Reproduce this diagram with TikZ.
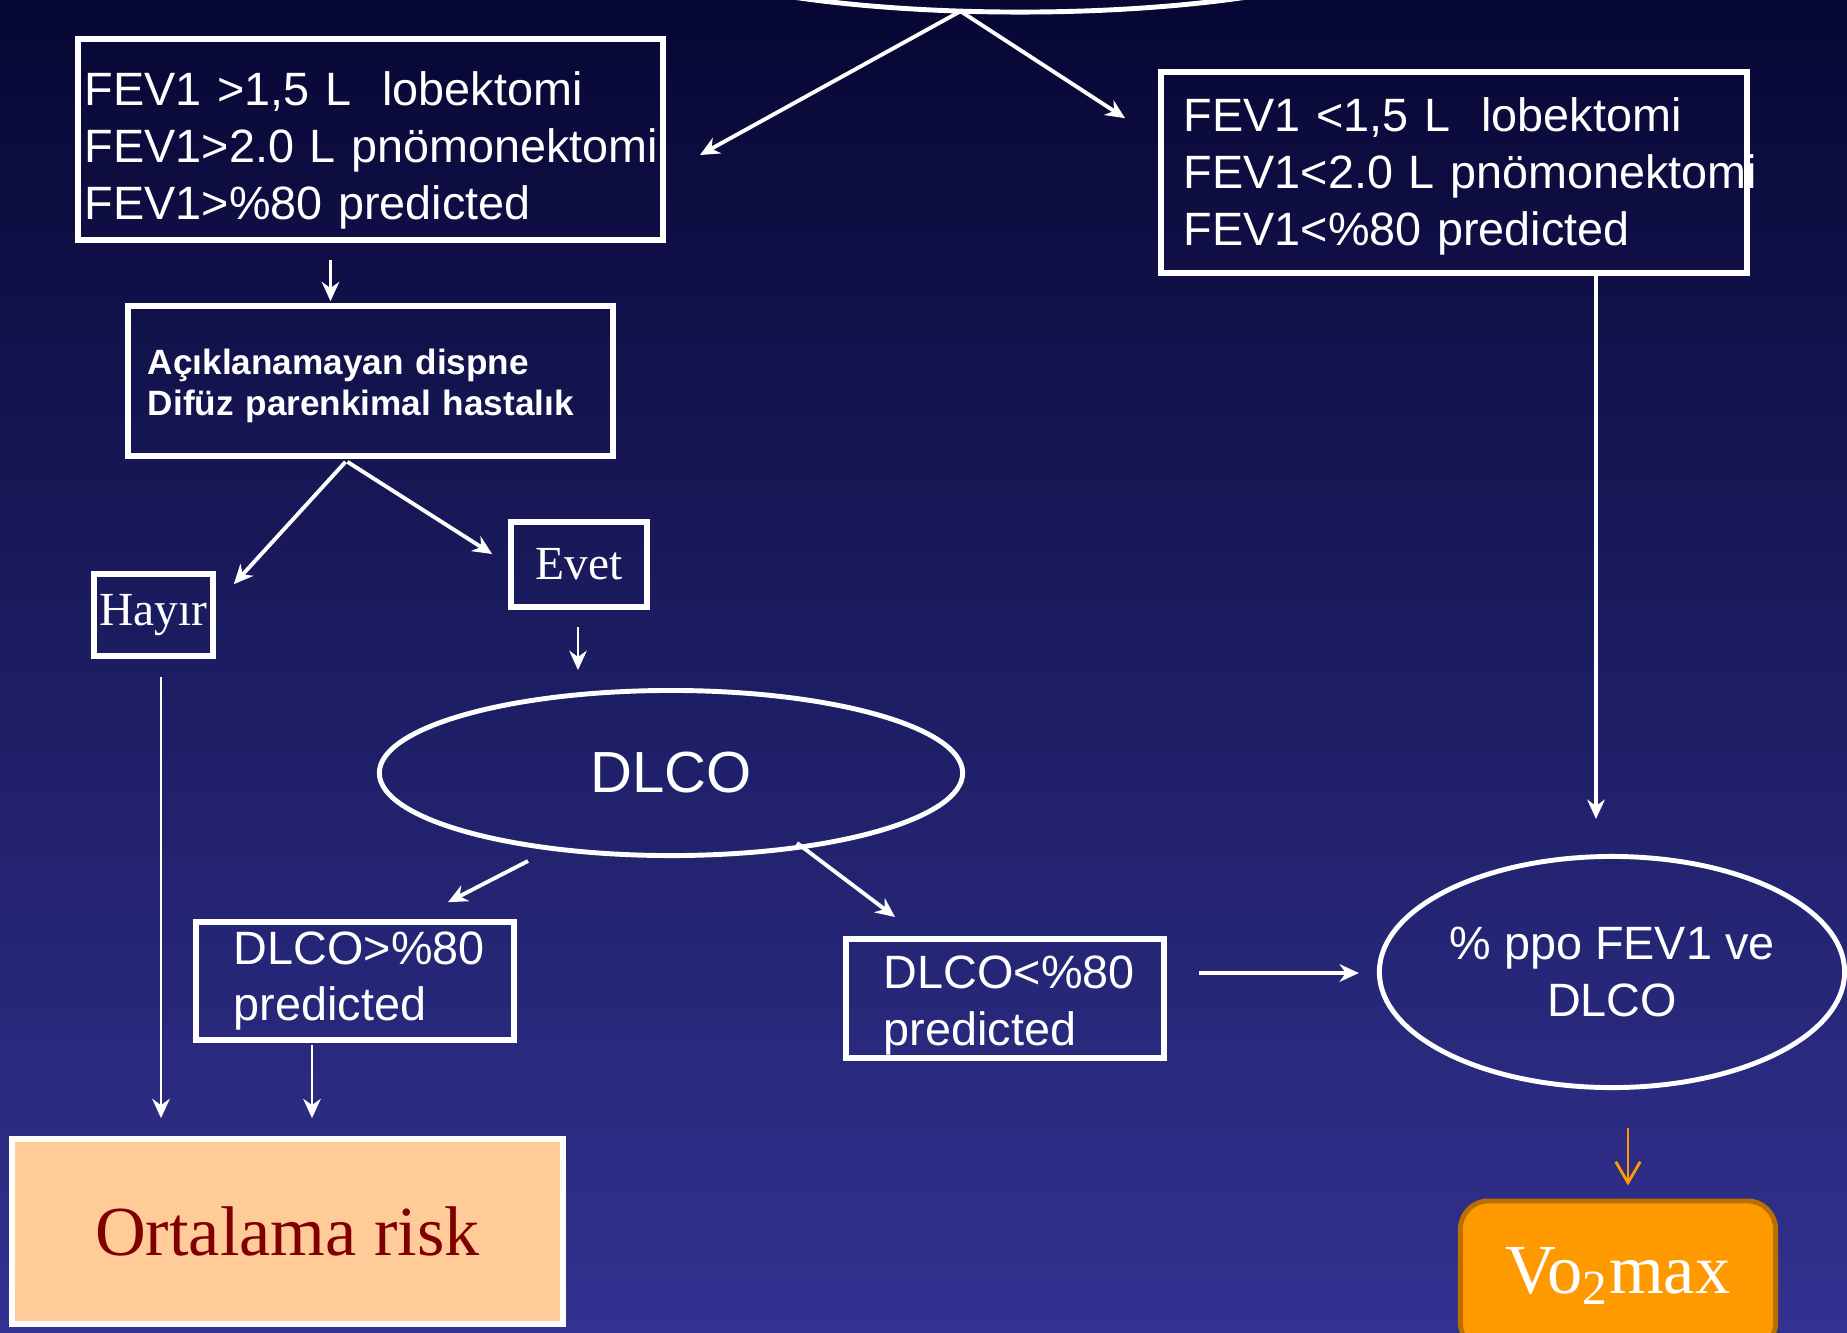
\documentclass[tikz,border=0pt]{standalone}
\usepackage{fontspec}
\setmainfont{Liberation Serif}
\setsansfont{Liberation Sans}
\usepackage{xcolor}
\usetikzlibrary{arrows.meta,shapes.geometric}
\definecolor{bgtop}{RGB}{7,7,52}
\definecolor{bgbot}{RGB}{50,50,145}
\definecolor{peach}{RGB}{255,204,153}
\definecolor{riskred}{RGB}{128,0,0}
\definecolor{vofill}{RGB}{255,153,0}
\definecolor{vodraw}{RGB}{184,112,0}

\begin{document}
\begin{tikzpicture}[x=0.01cm, y=-0.01cm,
  box/.style={draw=white, line width=1.6pt, text=white, align=left,
              font=\sffamily\fontsize{13.3}{16.2}\selectfont, inner ysep=1pt},
  oval/.style={ellipse, draw=white, line width=1.4pt, text=white, align=center,
               font=\sffamily\fontsize{13.3}{16.2}\selectfont, inner sep=0pt},
  word/.style={box, font=\rmfamily\fontsize{13.5}{16}\selectfont, inner sep=0pt},
  arr/.style={-{Stealth[length=5.5pt, width=5pt]}, white, line width=1.1pt},
  arrthin/.style={arr, line width=0.7pt},
  voarr/.style={-{Straight Barb[length=6pt, width=7pt]}, vofill, line width=0.8pt}]
\useasboundingbox (0,0) rectangle (1847,1332);
\clip (0,0) rectangle (1847,1332);
\shade[top color=bgtop, bottom color=bgbot] (0,0) rectangle (1847,1332);
\node[oval, minimum width=8cm, minimum height=1.7cm] (start) at (1020,-73) {};
\node[box, text width=5.71cm, inner xsep=0.07cm, minimum height=2.01cm,
      text height=15.7pt] (fev1hi) at (370.5,139.5)
  {FEV1 >1,5 L~ lobektomi\\ \mbox{FEV1>2.0 L pnömonektomi}\\ FEV1>\%80 predicted};
\node[box, text width=5.4cm, inner xsep=0.23cm, minimum height=2.01cm,
      text height=11.7pt] (fev1lo) at (1454,172.5)
  {FEV1 <1,5 L~ lobektomi\\ \mbox{FEV1<2.0 L pnömonektomi}\\ FEV1<\%80 predicted};
\node[box, font=\sffamily\bfseries\fontsize{10}{11.7}\selectfont, text width=4.45cm,
      inner xsep=0.2cm, minimum height=1.5cm, text height=9.9pt] (acik) at (370.5,381)
  {Açıklanamayan dispne\\ Difüz parenkimal hastalık};
\node[word, minimum width=1.19cm, minimum height=0.82cm] (hayir) at (153.5,615) {Hayır};
\node[word, minimum width=1.36cm, minimum height=0.85cm] (evet) at (579,564.5) {Evet};
\node[oval, font=\sffamily\fontsize{16.5}{19}\selectfont, minimum width=5.83cm,
      minimum height=1.65cm] (dlco) at (671,773) {DLCO};
\node[box, text width=2.42cm, inner xsep=0.38cm, minimum height=1.18cm] (dlcohi) at (355,981)
  {\mbox{DLCO>\%80}\\ predicted};
\node[box, text width=2.42cm, inner xsep=0.38cm, minimum height=1.17cm,
      text height=13pt] (dlcolo) at (1005,998.5)
  {\mbox{DLCO<\%80}\\ predicted};
\node[oval, minimum width=4.65cm, minimum height=2.31cm] (ppo) at (1612,972)
  {\% ppo FEV1 ve\\ DLCO};
\node[draw=vodraw, fill=vofill, line width=1.4pt, rounded corners=0.28cm, text=white,
      font=\rmfamily\fontsize{20}{24}\selectfont, minimum width=3.15cm,
      minimum height=1.5cm] (vo2) at (1618,1276) {Vo\textsubscript{2}max};
\node[draw=white, fill=peach, line width=1.6pt, text=riskred,
      font=\rmfamily\fontsize{20}{24}\selectfont, minimum width=5.51cm,
      minimum height=1.85cm] (ort) at (287.5,1231.5) {Ortalama risk};
\draw[arr] ([shift={(-60,-3)}]start.south) -- ([shift={(34,15.5)}]fev1hi.east);
\draw[arr] ([shift={(-59,-3)}]start.south) -- ([shift={(-33,49)}]fev1lo.north west);
\draw[arrthin] ([shift={(-40,17)}]fev1hi.south) -- ([shift={(-40,-2)}]acik.north);
\draw[arr] ([shift={(-25,3)}]acik.south) -- ([shift={(18,13)}]hayir.north east);
\draw[arr] ([shift={(-23,3)}]acik.south) -- ([shift={(-16,-10.5)}]evet.west);
\draw[arrthin] ([shift={(-1,17)}]evet.south) -- ([shift={(-93,-18)}]dlco.north);
\draw[arr] ([shift={(-143,3)}]dlco.south) -- ([shift={(93,-17)}]dlcohi.north);
\draw[arr] ([shift={(126,-15)}]dlco.south) -- ([shift={(-110,-19)}]dlcolo.north);
\draw[arr] ([shift={(32,-25.5)}]dlcolo.east) -- ([shift={(-18,1)}]ppo.west);
\draw[arrthin, line width=0.9pt] ([shift={(142,0)}]fev1lo.south) -- ([shift={(-16,-35)}]ppo.north);
\draw[voarr] ([shift={(16,38)}]ppo.south) -- ([shift={(10,-13)}]vo2.north);
\draw[arrthin] ([shift={(7.5,18)}]hayir.south) -- ([shift={(-126.5,-18)}]ort.north);
\draw[arrthin] ([shift={(-43,2)}]dlcohi.south) -- ([shift={(24.5,-18)}]ort.north);
\end{tikzpicture}
\end{document}
